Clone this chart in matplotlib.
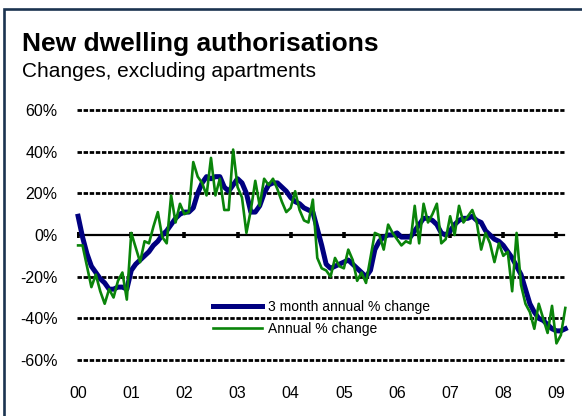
"""New dwelling authorisations: 3 month vs annual % change, 2000-2009."""

import matplotlib

matplotlib.use("Agg")

import matplotlib.pyplot as plt
from matplotlib.patches import Rectangle
from matplotlib.ticker import FixedFormatter, FixedLocator

# monthly, Jan 2000 .. Mar 2009 (% change)
three_month_annual = [
    9, -1, -9, -15, -18, -21, -23, -26, -26, -25, -25, -26,
    -17, -14, -12, -10, -8, -5, -3, 0, 2, 5, 8, 10,
    11, 11, 13, 20, 25, 28, 27, 28, 28, 23, 21, 24,
    27, 25, 20, 11, 11, 14, 20, 24, 25, 25, 23, 21,
    18, 16, 15, 13, 12, 11, 3, -5, -14, -16, -15, -14,
    -13, -12, -14, -16, -18, -20, -17, -7, -3, -1, 0, 0,
    1, -1, -1, -1, 2, 5, 8, 8, 7, 5, 1, 0,
    2, 5, 7, 8, 8, 9, 7, 6, 2, 0, -2, -3,
    -5, -8, -11, -15, -19, -26, -33, -37, -40, -41, -43, -45,
    -46, -46, -45,
]
annual = [
    -5, -5, -15, -25, -19, -27, -33, -26, -30, -22, -18, -31,
    1, -6, -13, -3, -4, 4, 11, -1, -4, 19, 6, 15,
    10, 11, 35, 28, 25, 19, 37, 19, 27, 12, 12, 41,
    23, 18, 1, 12, 26, 14, 27, 24, 27, 22, 16, 11,
    13, 21, 12, 7, 6, 17, -11, -16, -17, -20, -11, -15,
    -16, -7, -12, -22, -18, -23, -11, 1, 0, -7, 5, 1,
    -2, -5, -3, -4, 14, -4, 15, 6, 10, 15, -4, -2,
    9, 0, 14, 6, 9, 12, 6, -7, 1, -4, -13, -4,
    -10, -8, -27, 1, -24, -33, -37, -45, -33, -40, -47, -34,
    -52, -48, -35,
]
series_labels = ["3 month annual % change", "Annual % change"]
year_labels = ["00", "01", "02", "03", "04", "05", "06", "07", "08", "09"]
y_ticks = [60, 40, 20, 0, -20, -40, -60]
y_tick_labels = ["60%", "40%", "20%", "0%", "-20%", "-40%", "-60%"]

BLUE = "#000080"
GREEN = "#0a840a"
FONT = "Liberation Sans"


def main() -> None:
    plt.rcParams["font.family"] = [FONT, "DejaVu Sans"]

    fig = plt.figure(figsize=(5.82, 4.16), dpi=100)
    ax = fig.add_axes([77 / 582, 51.8 / 416, 489.2 / 582, 258.4 / 416])

    months = list(range(len(annual)))
    year_pos = [12 * i for i in range(len(year_labels))]

    # gridlines (dashed), zero line solid with year marks
    for value in y_ticks:
        if value == 0:
            continue
        ax.plot([-0.25, 109.7], [value, value], color="black", lw=2.0,
                ls=(0, (1.6, 0.6)), solid_capstyle="butt", zorder=1)
    ax.plot([-0.25, 109.7], [0, 0], color="black", lw=1.6, zorder=1)
    ax.plot(year_pos, [0] * len(year_pos), ls="none", marker="|",
            color="black", ms=5, mew=2.6, zorder=1)

    ax.plot(months, three_month_annual, color=BLUE, lw=3.6,
            label=series_labels[0], zorder=2, clip_on=False)
    ax.plot(months, annual, color=GREEN, lw=1.9,
            label=series_labels[1], zorder=3, clip_on=False)

    ax.set_xlim(-0.25, 110.2)
    ax.set_ylim(-62, 62)
    for spine in ax.spines.values():
        spine.set_visible(False)

    ax.xaxis.set_major_locator(FixedLocator(year_pos))
    ax.xaxis.set_major_formatter(FixedFormatter(year_labels))
    ax.yaxis.set_major_locator(FixedLocator(y_ticks))
    ax.yaxis.set_major_formatter(FixedFormatter(y_tick_labels))
    ax.tick_params(axis="x", length=0, pad=16, labelsize=11.5)
    ax.tick_params(axis="y", length=0, pad=14, labelsize=11.5)

    ax.legend(
        loc="upper left",
        bbox_to_anchor=(213 / 582, 1 - 300 / 416),
        bbox_transform=fig.transFigure,
        frameon=False,
        fontsize=10,
        handlelength=3.5,
        handletextpad=0.43,
        labelspacing=0.6,
        borderpad=0,
        borderaxespad=0,
    )

    fig.text(22 / 582, 1 - 51 / 416, "New dwelling authorisations",
             fontsize=19, fontweight="bold", va="baseline", ha="left")
    fig.text(22 / 582, 1 - 77 / 416, "Changes, excluding apartments",
             fontsize=15, va="baseline", ha="left")

    # outer frame, only top and left edges fall inside the picture
    fig.add_artist(Rectangle((3.7 / 582, -0.2), 1.3, 1.2 - 8.7 / 416,
                             transform=fig.transFigure, fill=False,
                             edgecolor="#1b3350", lw=1.9))

    fig.savefig("out.png", dpi=100)


if __name__ == "__main__":
    main()
